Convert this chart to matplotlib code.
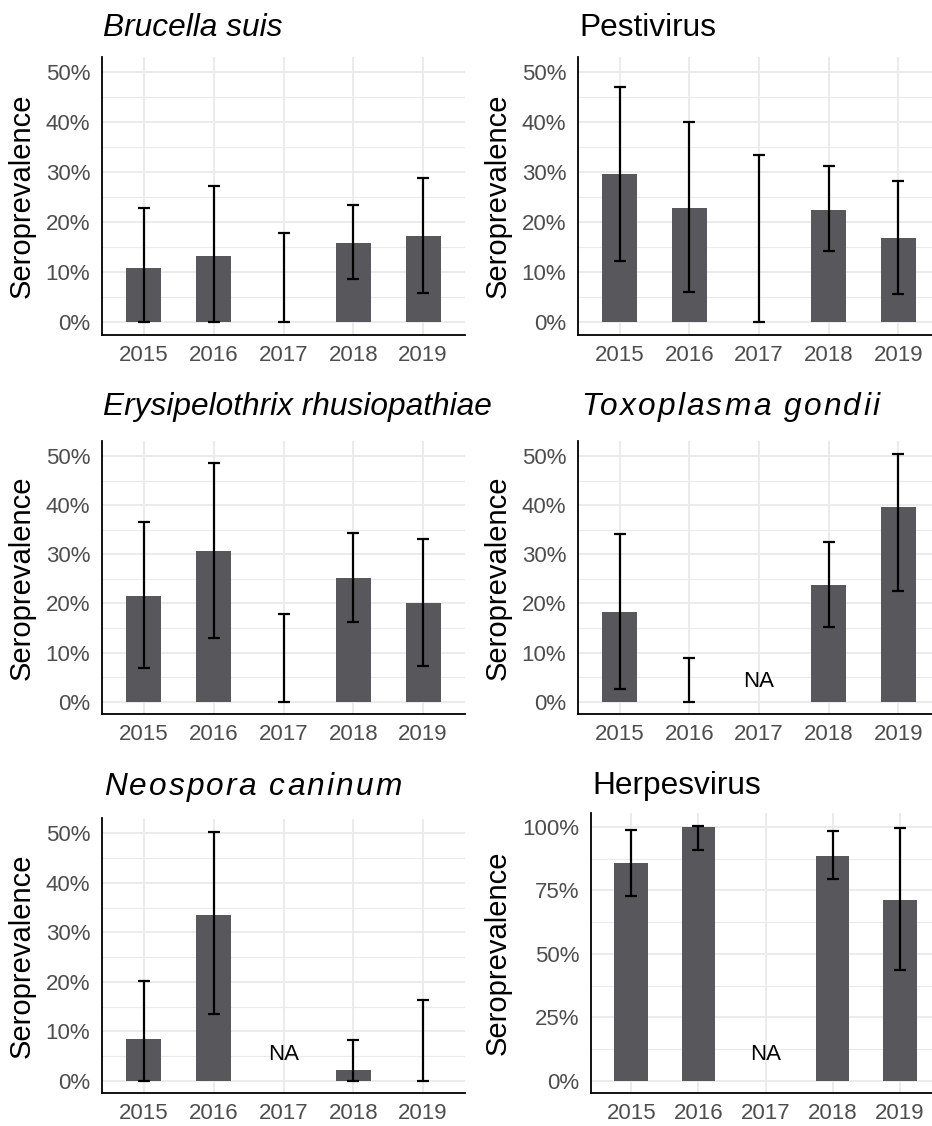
import numpy as np
import matplotlib.pyplot as plt
from matplotlib.font_manager import FontProperties
from matplotlib.ticker import FixedLocator, FuncFormatter

W, H = 932, 1126
BAR = '#58585c'
GRID = '#ebebeb'
TICK = '#4d4d4d'

years = ['2015', '2016', '2017', '2018', '2019']
NA = np.nan

# seroprevalence estimates with lower / upper interval bounds (fractions)
brucella = [0.108, 0.132, 0.0, 0.159, 0.172]
brucella_lo = [0.0, 0.0, 0.0, 0.086, 0.058]
brucella_hi = [0.229, 0.272, 0.179, 0.234, 0.288]

pestivirus = [0.295, 0.229, 0.0, 0.225, 0.168]
pestivirus_lo = [0.122, 0.061, 0.0, 0.142, 0.056]
pestivirus_hi = [0.469, 0.399, 0.334, 0.312, 0.282]

erysipelothrix = [0.216, 0.307, 0.0, 0.252, 0.201]
erysipelothrix_lo = [0.068, 0.130, 0.0, 0.163, 0.072]
erysipelothrix_hi = [0.365, 0.485, 0.179, 0.343, 0.332]

toxoplasma = [0.183, 0.0, NA, 0.238, 0.396]
toxoplasma_lo = [0.026, 0.0, NA, 0.153, 0.225]
toxoplasma_hi = [0.341, 0.089, NA, 0.325, 0.505]

neospora = [0.084, 0.334, NA, 0.022, 0.0]
neospora_lo = [0.0, 0.134, NA, 0.0, 0.0]
neospora_hi = [0.202, 0.503, NA, 0.082, 0.164]

herpesvirus = [0.857, 1.0, NA, 0.887, 0.714]
herpesvirus_lo = [0.728, 0.909, NA, 0.794, 0.436]
herpesvirus_hi = [0.987, 1.003, NA, 0.984, 0.996]

panels = [
    dict(title='Brucella suis', style='italic', track=0, v=brucella, lo=brucella_lo, hi=brucella_hi, top=0.5),
    dict(title='Pestivirus', style='normal', track=0, v=pestivirus, lo=pestivirus_lo, hi=pestivirus_hi, top=0.5),
    dict(title='Erysipelothrix rhusiopathiae', style='italic', track=0, v=erysipelothrix,
         lo=erysipelothrix_lo, hi=erysipelothrix_hi, top=0.5),
    dict(title='Toxoplasma gondii', style='italic', track=2.2, v=toxoplasma, lo=toxoplasma_lo,
         hi=toxoplasma_hi, top=0.5, na_y=0.041),
    dict(title='Neospora caninum', style='italic', track=2.1, v=neospora, lo=neospora_lo,
         hi=neospora_hi, top=0.5, na_y=0.053),
    dict(title='Herpesvirus', style='normal', track=0, v=herpesvirus, lo=herpesvirus_lo,
         hi=herpesvirus_hi, top=1.0, na_y=0.105),
]

# panel boxes in pixels: left, right, top, bottom, ylim, title x, title baseline, ylabel x
layout = [
    (102, 465, 56.7, 334.8, (-0.025, 0.53), 103, 36, 36),
    (578, 940, 56.7, 334.8, (-0.025, 0.53), 579, 36, 512),
    (102, 465, 441.3, 714.0, (-0.025, 0.53), 103, 415, 36),
    (578, 940, 441.3, 714.0, (-0.025, 0.53), 581, 415, 512),
    (102, 465, 818.5, 1093.1, (-0.025, 0.53), 104, 795, 36),
    (591, 940, 813.0, 1093.4, (-0.05, 1.055), 592, 794, 512),
]

plt.rcParams['font.family'] = ['Liberation Sans', 'DejaVu Sans']

fig = plt.figure(figsize=(W / 100, H / 100), dpi=100)
renderer = fig.canvas.get_renderer()


def draw_title(x_px, y_px, text, style, track):
    prop = FontProperties(family='Liberation Sans', style=style, size=22.8)
    if track == 0:
        fig.text(x_px / W, 1 - y_px / H, text, fontproperties=prop, ha='left', va='baseline')
        return
    # letter-spaced title, placed one glyph at a time
    for i, ch in enumerate(text):
        if ch == ' ':
            continue
        w_pre = renderer.get_text_width_height_descent(text[:i + 1], prop, ismath=False)[0]
        w_ch = renderer.get_text_width_height_descent(ch, prop, ismath=False)[0]
        x = x_px + w_pre - w_ch + i * track
        fig.text(x / W, 1 - y_px / H, ch, fontproperties=prop, ha='left', va='baseline')


x = np.arange(len(years))
for p, (left, right, top, bottom, ylim, tx, ty, lx) in zip(panels, layout):
    ax = fig.add_axes([left / W, 1 - bottom / H, (right - left) / W, (bottom - top) / H])
    v = np.array(p['v'], dtype=float)
    lo = np.array(p['lo'], dtype=float)
    hi = np.array(p['hi'], dtype=float)
    ok = ~np.isnan(v)

    ax.bar(x[ok], v[ok], width=0.5, color=BAR, zorder=2)
    ax.errorbar(x[ok], v[ok], yerr=[v[ok] - lo[ok], hi[ok] - v[ok]], fmt='none',
                ecolor='black', elinewidth=1.6, capsize=4, capthick=1.6, zorder=3)
    for i in x[~ok]:
        ax.text(i, p['na_y'], 'NA', ha='center', va='center', fontsize=16, color='black', zorder=4)

    ax.set_xlim(-0.6, len(years) - 0.4)
    ax.set_ylim(*ylim)
    ax.set_xticks(x)
    ax.set_xticklabels(years)
    step = 0.1 if p['top'] == 0.5 else 0.25
    major = np.arange(0, p['top'] + 1e-9, step)
    ax.yaxis.set_major_locator(FixedLocator(major))
    ax.yaxis.set_minor_locator(FixedLocator(major[:-1] + step / 2))
    ax.yaxis.set_major_formatter(FuncFormatter(lambda val, pos: f'{val * 100:.0f}%'))

    ax.grid(which='major', color=GRID, lw=1.4, zorder=0)
    ax.grid(which='minor', axis='y', color=GRID, lw=0.8, zorder=0)
    ax.set_axisbelow(True)
    for s in ['top', 'right']:
        ax.spines[s].set_visible(False)
    for s in ['left', 'bottom']:
        ax.spines[s].set_color('black')
        ax.spines[s].set_linewidth(1.3)
    ax.tick_params(which='both', length=0, labelsize=16, labelcolor=TICK)
    ax.tick_params(axis='y', pad=8.5)
    ax.tick_params(axis='x', pad=7)

    ax.set_ylabel('Seroprevalence', fontsize=21, color='black')
    ax.yaxis.set_label_coords(lx / W, 1 - (top + bottom) / 2 / H, transform=fig.transFigure)

    draw_title(tx, ty, p['title'], p['style'], p['track'])

fig.savefig('out.png', dpi=100)
